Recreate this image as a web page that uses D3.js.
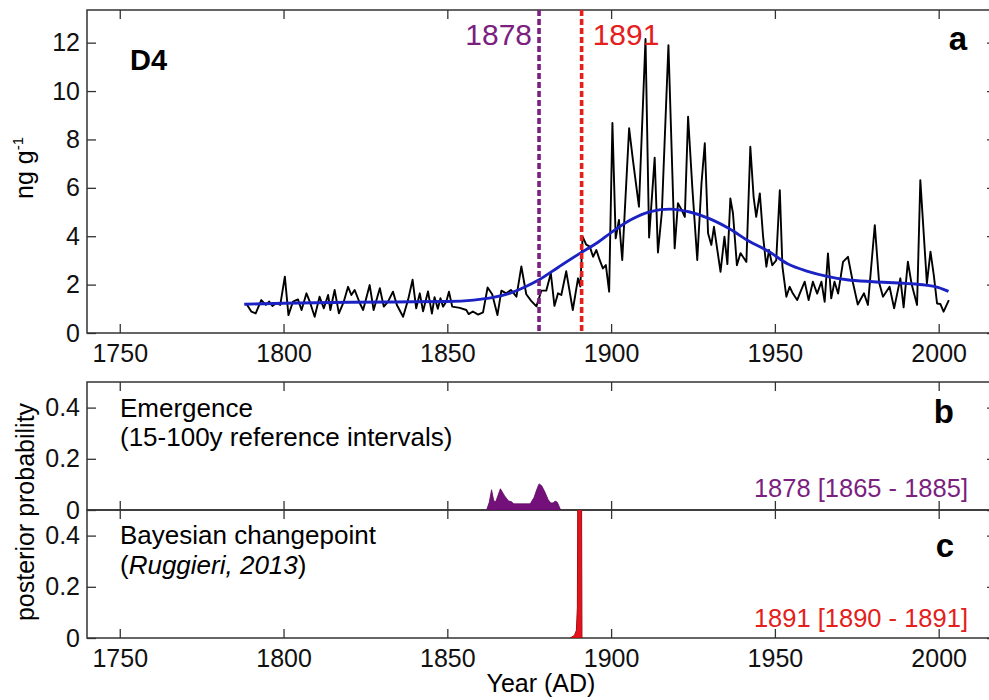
<!DOCTYPE html>
<html>
<head>
<meta charset="utf-8">
<script src="https://cdn.jsdelivr.net/npm/d3@7"></script>
<style>
  body { margin: 0; background: #fff; }
  svg { font-family: "Liberation Sans", Arial, sans-serif; }
  .tick line { stroke: #333; stroke-width: 1.3; }
  .tick text { fill: #111; }
</style>
</head>
<body>
<svg id="chart" width="989" height="700"></svg>
<script>
// Ice-core record D4 (ng g-1).
var years = [1788.7,1790.2,1791.5,1793.2,1794.6,1795.6,1796.6,1797.8,1799.0,1800.4,
  1801.5,1802.9,1804.4,1805.5,1807.0,1808.0,1809.5,1811.0,1812.3,1813.6,
  1814.3,1815.6,1816.9,1818.4,1819.7,1820.7,1821.7,1823.3,1824.3,1826.3,
  1827.5,1829.4,1830.6,1831.9,1833.4,1834.6,1836.5,1838.0,1839.4,1840.5,
  1841.6,1842.6,1844.1,1845.3,1846.1,1847.1,1847.9,1848.7,1849.7,1850.5,
  1851.5,1853.8,1855.8,1856.5,1857.8,1859.4,1860.9,1862.3,1863.7,1865.3,
  1866.5,1868.0,1869.4,1871.1,1872.6,1874.1,1875.6,1877.2,1878.7,1880.2,
  1881.6,1882.7,1883.8,1884.8,1886.3,1888.3,1889.9,1890.6,1891.3,1892.4,
  1893.5,1894.5,1895.5,1896.5,1897.5,1898.4,1899.4,1900.4,1901.4,1902.4,
  1903.4,1905.5,1906.7,1908.5,1910.5,1911.6,1913.3,1914.3,1915.5,1917.5,
  1919.4,1920.4,1921.5,1922.5,1923.5,1924.8,1926.3,1927.6,1928.6,1929.6,
  1930.6,1931.4,1933.4,1934.6,1935.5,1936.4,1937.2,1938.4,1939.5,1940.5,
  1941.3,1942.5,1943.5,1944.3,1945.4,1946.4,1947.4,1948.2,1949.2,1950.4,
  1951.5,1952.3,1953.5,1954.5,1955.5,1956.8,1957.8,1959.1,1960.3,1961.6,
  1962.9,1964.2,1965.2,1966.2,1967.2,1968.2,1969.3,1970.8,1972.3,1973.8,
  1975.3,1977.2,1978.4,1980.5,1981.8,1983.0,1985.0,1986.4,1988.3,1989.3,
  1990.6,1991.7,1993.4,1994.4,1996.4,1997.5,1998.5,1999.5,2000.5,2001.5,
  2003.1];
var values = [1.20,0.88,0.81,1.36,1.16,1.30,1.12,1.23,1.16,2.33,
  0.74,1.30,1.39,0.95,1.64,1.30,0.67,1.50,1.02,1.57,
  0.95,1.78,0.81,1.30,1.91,1.57,1.78,1.23,0.95,1.98,
  0.95,1.85,1.09,1.30,1.71,1.16,0.67,1.36,2.20,1.02,
  1.64,0.90,1.72,0.80,1.48,1.00,1.44,1.09,1.30,1.71,
  1.09,1.04,0.95,0.78,0.89,0.76,0.85,1.88,1.60,0.74,
  1.75,1.64,1.78,1.50,2.75,1.60,1.33,1.10,1.75,1.75,
  2.47,1.12,1.64,1.57,2.55,0.95,2.26,1.92,3.98,3.65,
  3.57,3.15,3.43,3.02,2.67,2.81,1.71,8.68,3.91,4.67,
  3.02,8.46,7.10,5.22,12.15,3.95,7.25,3.33,5.00,11.90,
  3.50,5.36,5.10,4.80,8.94,6.00,3.02,6.20,7.84,4.12,
  3.64,4.39,2.53,3.98,2.85,5.56,4.95,2.80,3.30,3.10,
  2.94,7.70,5.63,4.80,5.77,3.98,2.74,3.43,2.80,3.00,
  5.90,2.74,1.50,1.91,1.63,1.36,1.70,2.12,1.36,2.12,
  1.63,2.12,1.29,3.29,1.43,2.12,1.63,2.94,3.15,2.10,
  1.18,1.64,1.16,4.46,2.10,1.50,1.91,1.02,2.26,1.06,
  2.95,2.05,1.16,6.32,2.05,3.36,2.40,1.22,1.20,0.88,
  1.36];

// Smoothed fit (blue curve)
var smoothYears  = [1788,1800,1820,1840,1850,1858,1864,1869,1874,1878,1884,1890,1896,1900,1906,1912,1918,1924,1930,1936,1942,1948,1954,1960,1966,1972,1980,1990,1996,2000,2003];
var smoothValues = [1.19,1.23,1.27,1.29,1.30,1.36,1.47,1.64,1.92,2.20,2.73,3.25,3.75,4.15,4.68,5.02,5.12,5.00,4.73,4.32,3.80,3.38,2.85,2.55,2.34,2.20,2.12,2.05,1.98,1.88,1.72];

// Panel b: emergence posterior probability
var emergYears = [1862.0,1862.8,1863.5,1864.2,1864.8,1866.2,1867.5,1868.7,1869.5,1870.3,1875.3,1876.5,1877.3,1878.0,1878.8,1879.8,1880.8,1881.6,1882.4,1882.9,1883.6,1884.6];
var emergProb  = [0,0.03,0.079,0.035,0.033,0.083,0.055,0.035,0.033,0.024,0.024,0.05,0.08,0.102,0.095,0.07,0.04,0.027,0.028,0.035,0.03,0];

// Panel c: Bayesian changepoint posterior probability
var bcpYears = [1887.5,1888.8,1889.4,1889.7,1889.9,1890.9,1891.1];
var bcpProb  = [0,0.01,0.03,0.12,0.9,0.9,0];

var xTicks = [1750,1800,1850,1900,1950,2000];
var yTicksA = [0,2,4,6,8,10,12];
var yTicksP = [0,0.2,0.4];

var eventYears  = [1878,1891];
var eventLabels = ["1878","1891"];
var eventColors = ["#7b1f80","#e3201b"];

var FS = 25;

var svg = d3.select("#chart");

var x = d3.scaleLinear().domain([1740, 2017.5]).range([87, 996]);
var yA = d3.scaleLinear().domain([0, 13.35]).range([333, 10]);
var yB = d3.scaleLinear().domain([0, 0.5]).range([510, 382]);
var yC = d3.scaleLinear().domain([0, 0.5]).range([638, 510]);

var panels = [
  { name: "a", y: yA, yTicks: yTicksA, fmt: d3.format("d"), xLabels: true },
  { name: "b", y: yB, yTicks: yTicksP, fmt: function(d) { return d === 0 ? "0" : d3.format(".1f")(d); }, xLabels: false },
  { name: "c", y: yC, yTicks: yTicksP, fmt: function(d) { return d === 0 ? "0" : d3.format(".1f")(d); }, xLabels: true }
];

// Axes and frames for each panel, MATLAB style (ticks inside, all sides).
panels.forEach(function(p) {
  var top = p.y.range()[1], bottom = p.y.range()[0];
  svg.append("clipPath").attr("id", "clip-" + p.name)
    .append("rect").attr("x", 87).attr("y", top).attr("width", 909).attr("height", bottom - top);

  var gb = svg.append("g").attr("transform", "translate(0," + bottom + ")")
    .call(d3.axisBottom(x).tickValues(xTicks).tickSize(-9).tickSizeOuter(0).tickPadding(11)
      .tickFormat(p.xLabels ? d3.format("d") : ""));
  gb.select(".domain").remove();
  gb.selectAll("text").attr("font-size", FS).attr("font-family", null);

  var gt = svg.append("g").attr("transform", "translate(0," + top + ")")
    .call(d3.axisTop(x).tickValues(xTicks).tickSize(-9).tickSizeOuter(0).tickFormat(""));
  gt.select(".domain").remove();

  var gl = svg.append("g").attr("transform", "translate(87,0)")
    .call(d3.axisLeft(p.y).tickValues(p.yTicks).tickSize(-9).tickSizeOuter(0).tickPadding(7).tickFormat(p.fmt));
  gl.select(".domain").remove();
  gl.selectAll("text").attr("font-size", FS).attr("font-family", null);

  var gr = svg.append("g").attr("transform", "translate(996,0)")
    .call(d3.axisRight(p.y).tickValues(p.yTicks).tickSize(-9).tickSizeOuter(0).tickFormat(""));
  gr.select(".domain").remove();

  svg.append("rect")
    .attr("x", 87).attr("y", top).attr("width", 909).attr("height", bottom - top)
    .attr("fill", "none").attr("stroke", "#333").attr("stroke-width", 1.5);
});

// Panel a: data
var gA = svg.append("g").attr("clip-path", "url(#clip-a)");

gA.append("path")
  .datum(d3.range(years.length))
  .attr("fill", "none").attr("stroke", "#000").attr("stroke-width", 1.9)
  .attr("stroke-linejoin", "round")
  .attr("d", d3.line().x(function(i) { return x(years[i]); }).y(function(i) { return yA(values[i]); }));

gA.append("path")
  .datum(d3.range(smoothYears.length))
  .attr("fill", "none").attr("stroke", "#1b22c4").attr("stroke-width", 2.9)
  .attr("d", d3.line().curve(d3.curveMonotoneX)
    .x(function(i) { return x(smoothYears[i]); }).y(function(i) { return yA(smoothValues[i]); }));

eventYears.forEach(function(yr, i) {
  gA.append("line")
    .attr("x1", x(yr)).attr("x2", x(yr)).attr("y1", yA.range()[1]).attr("y2", yA.range()[0])
    .attr("stroke", eventColors[i]).attr("stroke-width", 3.6).attr("stroke-dasharray", "6,3");
  svg.append("text")
    .attr("x", i === 0 ? x(yr) - 7 : x(yr) + 11).attr("y", 45)
    .attr("text-anchor", i === 0 ? "end" : "start")
    .attr("font-size", 30).attr("fill", eventColors[i])
    .text(eventLabels[i]);
});

svg.append("text").attr("x", 130).attr("y", 70).attr("font-size", 29).attr("font-weight", "bold").text("D4");
svg.append("text").attr("x", 967).attr("y", 50).attr("text-anchor", "end").attr("font-size", 33).attr("font-weight", "bold").text("a");

// Panel b: emergence distribution
svg.append("g").attr("clip-path", "url(#clip-b)")
  .append("path")
  .datum(d3.range(emergYears.length))
  .attr("fill", "#74107a").attr("stroke", "#5e0a63").attr("stroke-width", 0.8)
  .attr("d", d3.area().x(function(i) { return x(emergYears[i]); })
    .y0(yB(0)).y1(function(i) { return yB(emergProb[i]); }));

svg.append("text").attr("x", 120).attr("y", 417).attr("font-size", 26).text("Emergence");
svg.append("text").attr("x", 120).attr("y", 446).attr("font-size", 26).text("(15-100y reference intervals)");
svg.append("text").attr("x", 954).attr("y", 423).attr("text-anchor", "end").attr("font-size", 33).attr("font-weight", "bold").text("b");
svg.append("text").attr("x", 968).attr("y", 497).attr("text-anchor", "end").attr("font-size", 25.5).attr("fill", "#7b1f80").text("1878 [1865 - 1885]");

// Panel c: changepoint distribution
svg.append("g").attr("clip-path", "url(#clip-c)")
  .append("path")
  .datum(d3.range(bcpYears.length))
  .attr("fill", "#e8101a").attr("stroke", "#9a1010").attr("stroke-width", 1)
  .attr("d", d3.area().x(function(i) { return x(bcpYears[i]); })
    .y0(yC(0)).y1(function(i) { return yC(bcpProb[i]); }));

svg.append("text").attr("x", 120).attr("y", 544).attr("font-size", 26).text("Bayesian changepoint");
var ref = svg.append("text").attr("x", 120).attr("y", 574).attr("font-size", 26);
ref.append("tspan").text("(");
ref.append("tspan").attr("font-style", "italic").text("Ruggieri, 2013");
ref.append("tspan").text(")");
svg.append("text").attr("x", 954).attr("y", 557).attr("text-anchor", "end").attr("font-size", 33).attr("font-weight", "bold").text("c");
svg.append("text").attr("x", 968).attr("y", 627).attr("text-anchor", "end").attr("font-size", 25.5).attr("fill", "#e3201b").text("1891 [1890 - 1891]");

// Axis titles
var ya = svg.append("text").attr("transform", "translate(33,168) rotate(-90)")
  .attr("text-anchor", "middle").attr("font-size", FS);
ya.append("tspan").text("ng g");
ya.append("tspan").attr("font-size", 15).attr("dy", -10).text("-1");

svg.append("text").attr("transform", "translate(34,512) rotate(-90)")
  .attr("text-anchor", "middle").attr("font-size", FS).text("posterior probability");

svg.append("text").attr("x", 541).attr("y", 692).attr("text-anchor", "middle").attr("font-size", FS).text("Year (AD)");
</script>
</body>
</html>
